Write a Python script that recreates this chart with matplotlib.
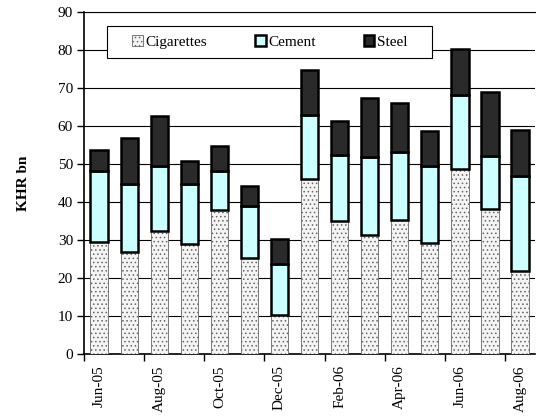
import matplotlib.pyplot as plt
from matplotlib.patches import Rectangle
import numpy as np

plt.rcParams['font.family'] = ['Liberation Serif', 'DejaVu Serif']
plt.rcParams['hatch.color'] = '#c4c4c4'
plt.rcParams['hatch.linewidth'] = 0.6

months = ['Jun-05', 'Jul-05', 'Aug-05', 'Sep-05', 'Oct-05', 'Nov-05', 'Dec-05', 'Jan-06',
          'Feb-06', 'Mar-06', 'Apr-06', 'May-06', 'Jun-06', 'Jul-06', 'Aug-06']
cigarettes = [29.4, 26.8, 32.5, 28.9, 38.0, 25.3, 10.3, 46.0, 35.0, 31.3, 35.2, 29.3, 48.6, 38.1, 21.8]
cement = [18.8, 18.0, 16.9, 15.9, 10.3, 13.6, 13.3, 16.9, 17.5, 20.5, 18.1, 20.2, 19.6, 14.1, 25.0]
steel = [5.5, 12.0, 13.3, 6.1, 6.5, 5.4, 6.8, 12.0, 8.8, 15.7, 12.8, 9.3, 12.2, 16.7, 12.1]

x = np.arange(len(months))
cig = np.array(cigarettes)
cem = np.array(cement)

fig = plt.figure(figsize=(5.36, 4.19), dpi=100)
ax = fig.add_axes([0.157, 0.155, 0.841, 0.816])

w = 0.58
ax.bar(x, cigarettes, w, color='#f4f4f4', edgecolor='#666666', linewidth=0.6,
       hatch='....', label='Cigarettes', zorder=3)
ax.bar(x, cement, w, bottom=cig, color='#ccffff', edgecolor='black', linewidth=1.8,
       label='Cement', zorder=3)
ax.bar(x, steel, w, bottom=cig + cem, color='#2a2a2a', edgecolor='black', linewidth=1.8,
       label='Steel', zorder=3)

ax.set_ylim(0, 90)
ax.set_xlim(-0.5, 14.5)
ax.set_yticks(np.arange(0, 91, 10))
ax.yaxis.grid(True, color='black', linewidth=0.8, zorder=0)
ax.set_axisbelow(True)

ax.set_xticks(x[::2])
ax.set_xticklabels(months[::2], rotation=90)
ax.set_xticks(np.arange(-0.5, 15, 2), minor=True)
ax.tick_params(axis='x', which='major', length=0, pad=8, labelsize=11)
ax.tick_params(axis='x', which='minor', length=5, width=1, direction='out')
ax.tick_params(axis='y', length=5, width=1, direction='out', labelsize=11, pad=3)

ax.spines['right'].set_visible(False)
ax.spines['top'].set_linewidth(0.8)
ax.spines['left'].set_linewidth(1.2)
ax.spines['bottom'].set_linewidth(1.2)

ax.set_ylabel('KHR bn', fontweight='bold', fontsize=11, labelpad=20)

# legend box drawn by hand so the padding matches
ax.add_patch(Rectangle((0.051, 0.865), 0.72, 0.094, transform=ax.transAxes,
                       facecolor='white', edgecolor='black', linewidth=0.8, zorder=4))
leg = ax.legend(ncol=3, loc='center', bbox_to_anchor=(0.106, 0.865, 0.612, 0.094),
                mode='expand', frameon=False, fontsize=11, handlelength=0.7,
                handleheight=0.7, handletextpad=0.2, borderpad=0, borderaxespad=0)
leg.set_zorder(5)

fig.savefig('out.png', dpi=100)
